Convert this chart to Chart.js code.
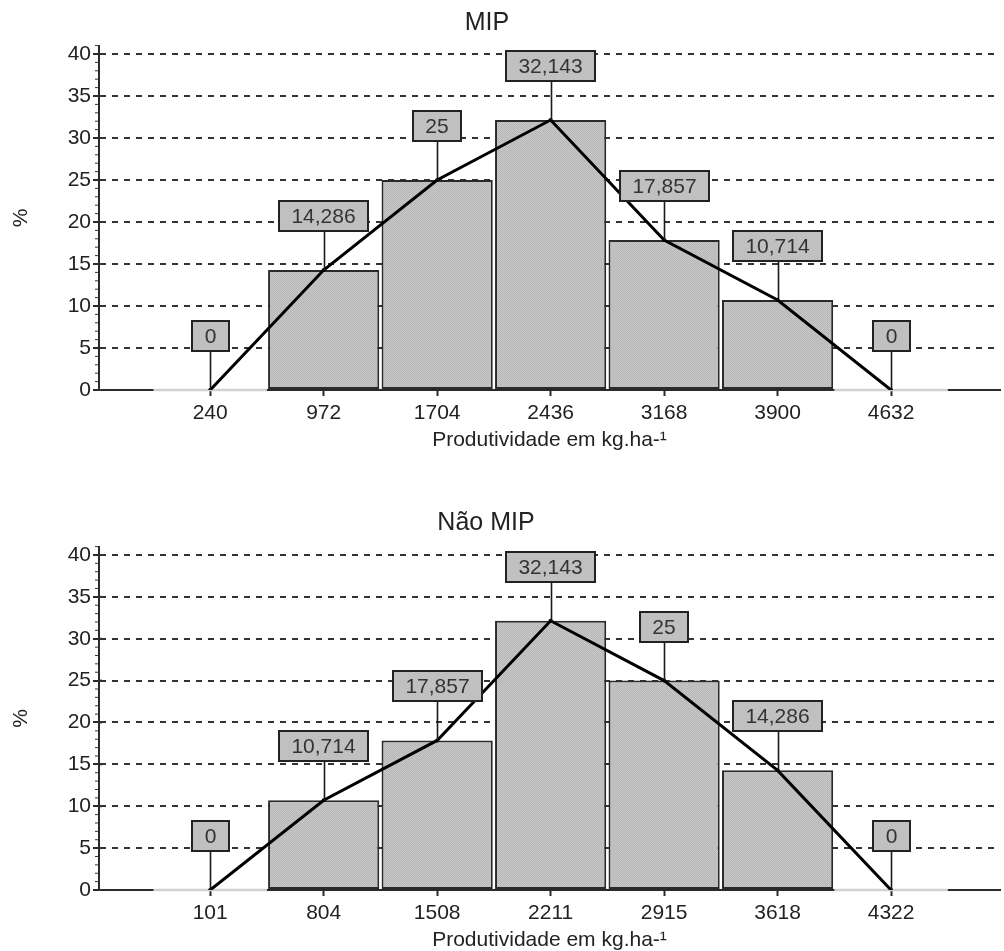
<!DOCTYPE html>
<html>
<head>
<meta charset="utf-8">
<script src="https://cdn.jsdelivr.net/npm/chart.js@4/dist/chart.umd.min.js"></script>
<style>
html,body{margin:0;padding:0;background:#fff;overflow:hidden}
canvas{display:block}
</style>
</head>
<body>
<canvas id="c1" width="1004" height="475"></canvas>
<canvas id="c2" width="1004" height="479"></canvas>
<script>
// ---- data ----
const mipTitle = 'MIP';
const mipLabels = ['240', '972', '1704', '2436', '3168', '3900', '4632'];
const mipValues = [0, 14.286, 25, 32.143, 17.857, 10.714, 0];

const naoTitle = 'Não MIP';
const naoLabels = ['101', '804', '1508', '2211', '2915', '3618', '4322'];
const naoValues = [0, 10.714, 17.857, 32.143, 25, 14.286, 0];

const yTickValues = [0, 5, 10, 15, 20, 25, 30, 35, 40];
const xAxisTitle = 'Produtividade em kg.ha-¹';
const yAxisTitle = '%';

// ---- styling ----
const FONT = "'Liberation Sans', Arial, sans-serif";
Chart.defaults.font.family = FONT;
Chart.defaults.color = '#222';

function makePattern(canvas) {
  const c = document.createElement('canvas');
  c.width = 2; c.height = 2;
  const g = c.getContext('2d');
  g.fillStyle = '#c6c6c6'; g.fillRect(0, 0, 2, 2);
  g.fillStyle = '#b8b8b8'; g.fillRect(0, 0, 1, 1); g.fillRect(1, 1, 1, 1);
  return canvas.getContext('2d').createPattern(c, 'repeat');
}

const panelTitle = {
  id: 'panelTitle',
  afterDraw(chart, args, opts) {
    const ctx = chart.ctx;
    ctx.save();
    ctx.font = '25px ' + FONT;
    ctx.fillStyle = '#222';
    ctx.textAlign = 'center';
    ctx.textBaseline = 'alphabetic';
    ctx.fillText(opts.text, opts.x, opts.y);
    ctx.restore();
  }
};

const zeroBase = {
  id: 'zeroBase',
  afterDatasetDraw(chart, args) {
    if (args.index !== 1) return;
    const xs = chart.scales.x, ys = chart.scales.y, ctx = chart.ctx;
    const y0 = ys.getPixelForValue(0);
    const data = chart.data.datasets[1].data;
    ctx.save();
    ctx.strokeStyle = '#d2d2d2';
    ctx.lineWidth = 2.5;
    data.forEach(d => {
      if (d.y === 0) {
        ctx.beginPath();
        ctx.moveTo(xs.getPixelForValue(d.x - 0.5), y0);
        ctx.lineTo(xs.getPixelForValue(d.x + 0.5), y0);
        ctx.stroke();
      }
    });
    ctx.restore();
  }
};

const minorTicks = {
  id: 'minorTicks',
  afterDatasetsDraw(chart) {
    const ys = chart.scales.y, ctx = chart.ctx;
    const x = chart.chartArea.left;
    ctx.save();
    ctx.strokeStyle = '#333';
    for (let v = 0; v <= 41; v++) {
      const y = ys.getPixelForValue(v);
      ctx.beginPath();
      if (v % 5 === 0) {
        ctx.lineWidth = 2;
        ctx.moveTo(x, y); ctx.lineTo(x + 3, y);
      } else {
        ctx.lineWidth = 1;
        ctx.moveTo(x - 4, y); ctx.lineTo(x, y);
      }
      ctx.stroke();
    }
    ctx.restore();
  }
};

const callouts = {
  id: 'callouts',
  afterDatasetsDraw(chart) {
    const meta = chart.getDatasetMeta(0);
    const data = chart.data.datasets[0].data;
    const ctx = chart.ctx;
    ctx.save();
    ctx.font = '21px ' + FONT;
    meta.data.forEach((pt, i) => {
      const txt = String(data[i].y).replace('.', ',');
      const w = Math.round(ctx.measureText(txt).width + 25);
      const h = 30;
      const bottom = Math.round(pt.y - 39);
      const left = Math.round(pt.x - w / 2);
      const lx = Math.round(pt.x) + 0.5;
      ctx.strokeStyle = '#1a1a1a';
      ctx.lineWidth = 1.6;
      ctx.beginPath();
      ctx.moveTo(lx, pt.y);
      ctx.lineTo(lx, bottom);
      ctx.stroke();
      ctx.fillStyle = '#c0c0c0';
      ctx.fillRect(left, bottom - h, w, h);
      ctx.lineWidth = 2;
      ctx.strokeStyle = '#222';
      ctx.strokeRect(left, bottom - h, w, h);
      ctx.fillStyle = '#333';
      ctx.textAlign = 'center';
      ctx.textBaseline = 'middle';
      ctx.fillText(txt, left + w / 2, bottom - h / 2 + 1);
    });
    ctx.restore();
  }
};

function makeChart(id, title, labels, values, padTop, padBottom, titlePos) {
  const canvas = document.getElementById(id);
  const pattern = makePattern(canvas);
  const pts = values.map((v, i) => ({ x: i, y: v }));
  return new Chart(canvas, {
    type: 'bar',
    data: {
      datasets: [
        {
          type: 'line',
          data: pts,
          borderColor: '#000',
          borderWidth: 3,
          pointRadius: 2,
          pointBackgroundColor: '#000',
          pointBorderWidth: 0,
          tension: 0
        },
        {
          type: 'bar',
          data: pts,
          backgroundColor: pattern,
          borderColor: '#2a2a2a',
          borderWidth: 2,
          borderSkipped: false,
          barPercentage: 0.98,
          categoryPercentage: 1
        }
      ]
    },
    options: {
      responsive: false,
      animation: false,
      events: [],
      layout: { padding: { top: padTop, bottom: padBottom, left: 0, right: 0 } },
      plugins: {
        legend: { display: false },
        tooltip: { enabled: false },
        panelTitle: { text: title, x: titlePos[0], y: titlePos[1] }
      },
      scales: {
        x: {
          type: 'linear',
          offset: false,
          min: -0.98,
          max: 6.96,
          afterBuildTicks: s => { s.ticks = labels.map((_, i) => ({ value: i })); },
          afterFit: s => { s.height = 64; },
          ticks: {
            autoSkip: false,
            maxRotation: 0,
            padding: 5,
            font: { size: 21 },
            color: '#222',
            callback: v => labels[v] !== undefined ? labels[v] : ''
          },
          grid: {
            offset: false,
            drawOnChartArea: false,
            drawTicks: true,
            tickLength: 6,
            tickColor: '#2a2a2a',
            tickWidth: 2
          },
          border: { display: true, color: '#2a2a2a', width: 2 },
          title: {
            display: true,
            text: xAxisTitle,
            font: { size: 21 },
            color: '#222',
            padding: { top: 0, bottom: 1 }
          }
        },
        y: {
          type: 'linear',
          min: 0,
          max: 41,
          afterBuildTicks: s => { s.ticks = yTickValues.map(v => ({ value: v })); },
          afterFit: s => { s.width = 99; },
          ticks: {
            padding: 2,
            font: { size: 21 },
            color: '#222'
          },
          grid: {
            color: c => (c.tick && c.tick.value === 0) ? 'rgba(0,0,0,0)' : '#333',
            lineWidth: 2,
            tickLength: 6,
            tickColor: '#2a2a2a',
            tickWidth: 2
          },
          border: { display: true, color: '#2a2a2a', width: 2, dash: [6, 6] },
          title: {
            display: true,
            text: yAxisTitle,
            font: { size: 21 },
            color: '#222',
            padding: { top: 9, bottom: 0 }
          }
        }
      }
    },
    plugins: [zeroBase, minorTicks, callouts, panelTitle]
  });
}

makeChart('c1', mipTitle, mipLabels, mipValues, 45.6, 21, [487, 30]);
makeChart('c2', naoTitle, naoLabels, naoValues, 71.6, 0, [486, 55]);
</script>
</body>
</html>
